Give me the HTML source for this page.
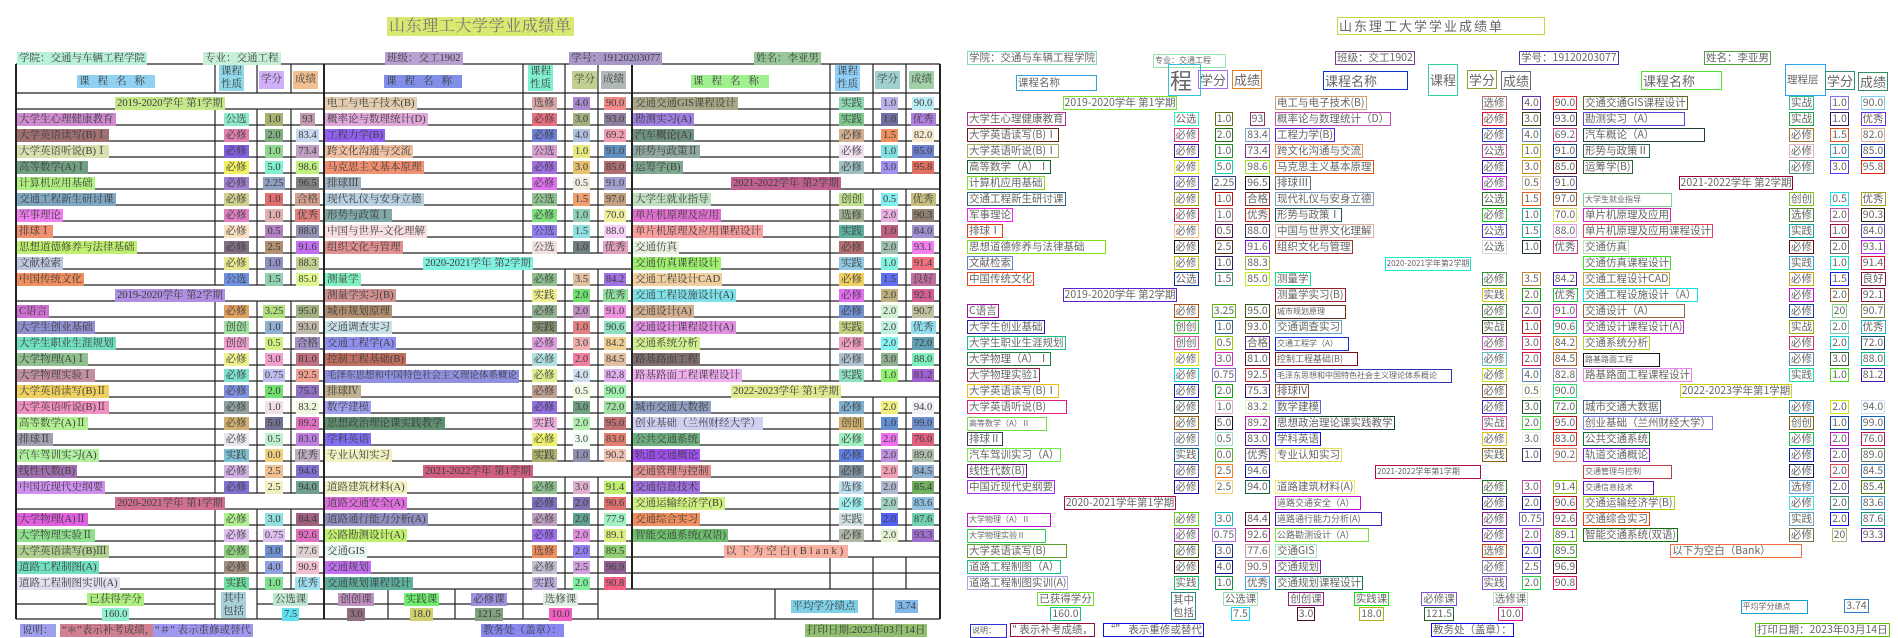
<!DOCTYPE html>
<html><head><meta charset="utf-8">
<style>
body{margin:0;width:1898px;height:636px;position:relative;overflow:hidden;background:#fff;font-family:"Liberation Serif","Noto Serif CJK SC",serif}
.L,.R{position:absolute;top:0;width:950px;height:636px}
.L{left:0}.R{left:950px}
.r{position:absolute;left:0;width:950px;height:16px}
.r b,.x{position:absolute;font-weight:normal;white-space:nowrap;text-align:center}
.r b{top:0;height:16px}
i{font-style:normal;display:inline-block;background:var(--c);line-height:13px;margin-top:1px;padding:0 2px;font-size:10.5px;color:#3c3c3c}
.a1{left:17px;text-align:left!important}.b1{left:215px;width:42px}.c1{left:257px;width:34px}.d1{left:291px;width:33px}
.a2{left:325px;text-align:left!important}.b2{left:523px;width:42px}.c2{left:565px;width:33px}.d2{left:598px;width:34px}
.a3{left:633px;text-align:left!important}.b3{left:830px;width:43px}.c3{left:873px;width:33px}.d3{left:906px;width:34px}
.h1{left:16px;width:308px}.h2{left:324px;width:308px}.h3{left:632px;width:308px}
.R i{background:none;border:1px solid var(--c);color:#666;font-family:"Noto Sans CJK SC",sans-serif;line-height:12px;padding:0 1px}
.big i{font-size:13px;line-height:17px}
</style></head><body>

<div class="L">
<svg width="950" height="636" style="position:absolute;left:0;top:0">
<g stroke="#222" fill="none" stroke-width="1.2">
<path d="M16 64H940M16 93H940M16 109H940M16 125H940M16 141H940M16 157H940M16 173H940M16 189H940M16 205H940M16 221H940M16 237H940M16 253H940M16 269H940M16 285H940M16 301H940M16 317H940M16 333H940M16 349H940M16 365H940M16 381H940M16 397H940M16 413H940M16 429H940M16 445H940M16 461H940M16 477H940M16 493H940M16 509H940M16 525H940M16 541H940M16 557H940M16 573H940M16 589H940M16 619H940M16 604H215M257 604H598"/>
<path d="M215 64V93M215 109V285M215 301V493M215 509V619M257 64V93M257 109V285M257 301V493M257 509V619M291 64V93M291 109V285M291 301V493M291 509V589M523 64V253M523 269V461M523 477V619M565 64V253M565 269V461M565 477V589M598 64V253M598 269V461M598 477V619M830 64V173M830 189V381M830 397V541M830 557V589M873 64V173M873 189V381M873 397V541M873 557V619M906 64V173M906 189V381M906 397V541M906 557V589M388 589V619M455 589V619M775 589V619"/>
<path stroke-width="2" d="M16 64V619M940 64V619M324 64V619M632 64V589"/>
</g></svg>
<div class="x" style="left:387px;top:16px"><i style="--c:#d8e870;font-size:16px;line-height:19px;letter-spacing:.6px;color:#777">山东理工大学学业成绩单</i></div>
<div class="x" style="left:17px;top:48px"><i style="--c:#b8f0d8">学院：交通与车辆工程学院</i></div>
<div class="x" style="left:203px;top:48px"><i style="--c:#c8f0d8">专业：交通工程</i></div>
<div class="x" style="left:385px;top:48px"><i style="--c:#b8a0d0">班级：交工1902</i></div>
<div class="x" style="left:569px;top:48px"><i style="--c:#a898c8">学号：19120203077</i></div>
<div class="x" style="left:754px;top:48px"><i style="--c:#98c898">姓名：李亚男</i></div>
<div class="x" style="left:77px;top:71px"><i style="--c:#90d0f0;letter-spacing:8px">课程名称</i></div>
<div class="x" style="left:219px;top:64px"><i style="--c:#90d8e8;line-height:13px">课程<br>性质</i></div>
<div class="x" style="left:259px;top:69px"><i style="--c:#d0b0f8;line-height:18px">学分</i></div>
<div class="x" style="left:293px;top:69px"><i style="--c:#f0c090;line-height:18px">成绩</i></div>
<div class="x" style="left:384px;top:71px"><i style="--c:#8090e8;letter-spacing:8px">课程名称</i></div>
<div class="x" style="left:528px;top:64px"><i style="--c:#80f0d0;line-height:13px">课程<br>性质</i></div>
<div class="x" style="left:572px;top:69px"><i style="--c:#c0d090;line-height:18px">学分</i></div>
<div class="x" style="left:601px;top:69px"><i style="--c:#b0b8b8;line-height:18px">成绩</i></div>
<div class="x" style="left:691px;top:71px"><i style="--c:#a0f090;letter-spacing:8px">课程名称</i></div>
<div class="x" style="left:835px;top:64px"><i style="--c:#90d0f8;line-height:13px">课程<br>性质</i></div>
<div class="x" style="left:875px;top:69px"><i style="--c:#a0d0d0;line-height:18px">学分</i></div>
<div class="x" style="left:909px;top:69px"><i style="--c:#a0d0a8;line-height:18px">成绩</i></div>

<div class="r" style="top:93px"><b class="h1"><i style="--c:#c5e88a">2019-2020学年 第1学期</i></b><b class="a2"><i style="--c:#e3cdb0">电工与电子技术(B)</i></b><b class="b2"><i style="--c:#d9a9a9">选修</i></b><b class="c2"><i style="--c:#a98ad0">4.0</i></b><b class="d2"><i style="--c:#f28a8a">90.0</i></b><b class="a3"><i style="--c:#a9a98a">交通交通GIS课程设计</i></b><b class="b3"><i style="--c:#8fd9b0">实践</i></b><b class="c3"><i style="--c:#b9b0e8">1.0</i></b><b class="d3"><i style="--c:#b9ecf5">90.0</i></b></div>
<div class="r" style="top:109px"><b class="a1"><i style="--c:#d08ad0">大学生心理健康教育</i></b><b class="b1"><i style="--c:#8fe8c8">公选</i></b><b class="c1"><i style="--c:#a9b070">1.0</i></b><b class="d1"><i style="--c:#c09ab0">93</i></b><b class="a2"><i style="--c:#e0a8d8">概率论与数理统计(D)</i></b><b class="b2"><i style="--c:#e87080">必修</i></b><b class="c2"><i style="--c:#a0b080">3.0</i></b><b class="d2"><i style="--c:#9080a0">93.0</i></b><b class="a3"><i style="--c:#a080e0">勘测实习(A)</i></b><b class="b3"><i style="--c:#80c890">实践</i></b><b class="c3"><i style="--c:#7070a0">1.0</i></b><b class="d3"><i style="--c:#b080e0">优秀</i></b></div>
<div class="r" style="top:125px"><b class="a1"><i style="--c:#a07070">大学英语读写(B)Ⅰ</i></b><b class="b1"><i style="--c:#e080b0">必修</i></b><b class="c1"><i style="--c:#80b080">2.0</i></b><b class="d1"><i style="--c:#c8d8f0">83.4</i></b><b class="a2"><i style="--c:#9060f0">工程力学(B)</i></b><b class="b2"><i style="--c:#7080d8">必修</i></b><b class="c2"><i style="--c:#b0c0e0">4.0</i></b><b class="d2"><i style="--c:#f0a0b0">69.2</i></b><b class="a3"><i style="--c:#709080">汽车概论(A)</i></b><b class="b3"><i style="--c:#d0b090">必修</i></b><b class="c3"><i style="--c:#f09060">1.5</i></b><b class="d3"><i style="--c:#f8e8d0">82.0</i></b></div>
<div class="r" style="top:141px"><b class="a1"><i style="--c:#d8e0b0">大学英语听说(B)Ⅰ</i></b><b class="b1"><i style="--c:#8060e0">必修</i></b><b class="c1"><i style="--c:#90d890">1.0</i></b><b class="d1"><i style="--c:#c0a0c0">73.4</i></b><b class="a2"><i style="--c:#f0c0a0">跨文化沟通与交流</i></b><b class="b2"><i style="--c:#d8a0d0">公选</i></b><b class="c2"><i style="--c:#e8e880">1.0</i></b><b class="d2"><i style="--c:#6090c0">91.0</i></b><b class="a3"><i style="--c:#90a8a0">形势与政策Ⅱ</i></b><b class="b3"><i style="--c:#f0e0f0">必修</i></b><b class="c3"><i style="--c:#80e0e0">1.0</i></b><b class="d3"><i style="--c:#7080d0">85.0</i></b></div>
<div class="r" style="top:157px"><b class="a1"><i style="--c:#70a080">高等数学(A)Ⅰ</i></b><b class="b1"><i style="--c:#f0f060">必修</i></b><b class="c1"><i style="--c:#80f0d0">5.0</i></b><b class="d1"><i style="--c:#c0f080">98.6</i></b><b class="a2"><i style="--c:#f09070">马克思主义基本原理</i></b><b class="b2"><i style="--c:#a070e0">必修</i></b><b class="c2"><i style="--c:#e8c070">3.0</i></b><b class="d2"><i style="--c:#b07070">85.0</i></b><b class="a3"><i style="--c:#80a890">运筹学(B)</i></b><b class="b3"><i style="--c:#a0c0c0">必修</i></b><b class="c3"><i style="--c:#a090f0">3.0</i></b><b class="d3"><i style="--c:#e07060">95.8</i></b></div>
<div class="r" style="top:173px"><b class="a1"><i style="--c:#b0f080">计算机应用基础</i></b><b class="b1"><i style="--c:#a080d0">必修</i></b><b class="c1"><i style="--c:#90a0c0">2.25</i></b><b class="d1"><i style="--c:#808080">96.5</i></b><b class="a2"><i style="--c:#a0b0c0">排球Ⅲ</i></b><b class="b2"><i style="--c:#e070f0">必修</i></b><b class="c2"><i style="--c:#f0ece0">0.5</i></b><b class="d2"><i style="--c:#a0a0d0">91.0</i></b><b class="h3"><i style="--c:#c06090">2021-2022学年 第2学期</i></b></div>
<div class="r" style="top:189px"><b class="a1"><i style="--c:#80a8c0">交通工程新生研讨课</i></b><b class="b1"><i style="--c:#d0d090">必修</i></b><b class="c1"><i style="--c:#e07070">1.0</i></b><b class="d1"><i style="--c:#d0a090">合格</i></b><b class="a2"><i style="--c:#b8d0e0">现代礼仪与安身立德</i></b><b class="b2"><i style="--c:#90c090">公选</i></b><b class="c2"><i style="--c:#f0a070">1.5</i></b><b class="d2"><i style="--c:#c0a080">97.0</i></b><b class="a3"><i style="--c:#c0e0c0">大学生就业指导</i></b><b class="b3"><i style="--c:#c0e090">创创</i></b><b class="c3"><i style="--c:#80f0f0">0.5</i></b><b class="d3"><i style="--c:#c8c080">优秀</i></b></div>
<div class="r" style="top:205px"><b class="a1"><i style="--c:#f080f0">军事理论</i></b><b class="b1"><i style="--c:#e080c0">必修</i></b><b class="c1"><i style="--c:#e0b0b0">1.0</i></b><b class="d1"><i style="--c:#e08080">优秀</i></b><b class="a2"><i style="--c:#80a8a8">形势与政策Ⅰ</i></b><b class="b2"><i style="--c:#80e080">必修</i></b><b class="c2"><i style="--c:#90d0b0">1.0</i></b><b class="d2"><i style="--c:#f0f0a0">70.0</i></b><b class="a3"><i style="--c:#e070d0">单片机原理及应用</i></b><b class="b3"><i style="--c:#a0b090">选修</i></b><b class="c3"><i style="--c:#e8b0e0">2.0</i></b><b class="d3"><i style="--c:#908070">90.3</i></b></div>
<div class="r" style="top:221px"><b class="a1"><i style="--c:#f09070">排球Ⅰ</i></b><b class="b1"><i style="--c:#f8e0c0">必修</i></b><b class="c1"><i style="--c:#b080c0">0.5</i></b><b class="d1"><i style="--c:#9090b0">88.0</i></b><b class="a2"><i style="--c:#f8e0e0">中国与世界-文化理解</i></b><b class="b2"><i style="--c:#9080f0">公选</i></b><b class="c2"><i style="--c:#90e0e0">1.5</i></b><b class="d2"><i style="--c:#f8d0f8">88.0</i></b><b class="a3"><i style="--c:#f8a0a0">单片机原理及应用课程设计</i></b><b class="b3"><i style="--c:#60b0a0">实践</i></b><b class="c3"><i style="--c:#c06080">1.0</i></b><b class="d3"><i style="--c:#a090d0">84.0</i></b></div>
<div class="r" style="top:237px"><b class="a1"><i style="--c:#c0f070">思想道德修养与法律基础</i></b><b class="b1"><i style="--c:#807080">必修</i></b><b class="c1"><i style="--c:#b09070">2.5</i></b><b class="d1"><i style="--c:#c070f0">91.6</i></b><b class="a2"><i style="--c:#e09090">组织文化与管理</i></b><b class="b2"><i style="--c:#f0e0e0">公选</i></b><b class="c2"><i style="--c:#708080">1.0</i></b><b class="d2"><i style="--c:#e0a0c0">优秀</i></b><b class="a3"><i style="--c:#e8f0e0">交通仿真</i></b><b class="b3"><i style="--c:#b07070">必修</i></b><b class="c3"><i style="--c:#a0c0b0">2.0</i></b><b class="d3"><i style="--c:#f080f0">93.1</i></b></div>
<div class="r" style="top:253px"><b class="a1"><i style="--c:#c0c8e0">文献检索</i></b><b class="b1"><i style="--c:#e8e890">必修</i></b><b class="c1"><i style="--c:#9090c0">1.0</i></b><b class="d1"><i style="--c:#c0d090">88.3</i></b><b class="h2"><i style="--c:#80f0e0">2020-2021学年 第2学期</i></b><b class="a3"><i style="--c:#a0f070">交通仿真课程设计</i></b><b class="b3"><i style="--c:#90c8e0">实践</i></b><b class="c3"><i style="--c:#80f0e0">1.0</i></b><b class="d3"><i style="--c:#f07080">91.4</i></b></div>
<div class="r" style="top:269px"><b class="a1"><i style="--c:#f09060">中国传统文化</i></b><b class="b1"><i style="--c:#7090e0">公选</i></b><b class="c1"><i style="--c:#90d0b0">1.5</i></b><b class="d1"><i style="--c:#e0f890">85.0</i></b><b class="a2"><i style="--c:#80f0c0">测量学</i></b><b class="b2"><i style="--c:#90c090">必修</i></b><b class="c2"><i style="--c:#e0c0a0">3.5</i></b><b class="d2"><i style="--c:#a070e0">84.2</i></b><b class="a3"><i style="--c:#f0d0a0">交通工程设计CAD</i></b><b class="b3"><i style="--c:#f0d060">必修</i></b><b class="c3"><i style="--c:#6070f0">1.5</i></b><b class="d3"><i style="--c:#c070a0">良好</i></b></div>
<div class="r" style="top:285px"><b class="h1"><i style="--c:#b090e0">2019-2020学年 第2学期</i></b><b class="a2"><i style="--c:#d09090">测量学实习(B)</i></b><b class="b2"><i style="--c:#f0f090">实践</i></b><b class="c2"><i style="--c:#70e070">2.0</i></b><b class="d2"><i style="--c:#90e0a0">优秀</i></b><b class="a3"><i style="--c:#80e0e8">交通工程设施设计(A)</i></b><b class="b3"><i style="--c:#e070f0">必修</i></b><b class="c3"><i style="--c:#c0b080">2.0</i></b><b class="d3"><i style="--c:#d06090">92.1</i></b></div>
<div class="r" style="top:301px"><b class="a1"><i style="--c:#d070d0">C语言</i></b><b class="b1"><i style="--c:#e0a060">必修</i></b><b class="c1"><i style="--c:#b0e080">3.25</i></b><b class="d1"><i style="--c:#a0b080">95.0</i></b><b class="a2"><i style="--c:#b09070">城市规划原理</i></b><b class="b2"><i style="--c:#90b090">必修</i></b><b class="c2"><i style="--c:#c090c0">2.0</i></b><b class="d2"><i style="--c:#f090e0">91.0</i></b><b class="a3"><i style="--c:#d0b090">交通设计(A)</i></b><b class="b3"><i style="--c:#7090d0">必修</i></b><b class="c3"><i style="--c:#d0f0d0">2.0</i></b><b class="d3"><i style="--c:#c0c0a0">90.7</i></b></div>
<div class="r" style="top:317px"><b class="a1"><i style="--c:#9090d0">大学生创业基础</i></b><b class="b1"><i style="--c:#a0e0a0">创创</i></b><b class="c1"><i style="--c:#90b0d0">1.0</i></b><b class="d1"><i style="--c:#c0b8a8">93.0</i></b><b class="a2"><i style="--c:#c8e0e8">交通调查实习</i></b><b class="b2"><i style="--c:#809070">实践</i></b><b class="c2"><i style="--c:#e08080">1.0</i></b><b class="d2"><i style="--c:#90e0c0">90.6</i></b><b class="a3"><i style="--c:#e090e0">交通设计课程设计(A)</i></b><b class="b3"><i style="--c:#c0d080">实践</i></b><b class="c3"><i style="--c:#c0f0e0">2.0</i></b><b class="d3"><i style="--c:#90e0f0">优秀</i></b></div>
<div class="r" style="top:333px"><b class="a1"><i style="--c:#70e0c0">大学生职业生涯规划</i></b><b class="b1"><i style="--c:#f0a0d0">创创</i></b><b class="c1"><i style="--c:#d0f080">0.5</i></b><b class="d1"><i style="--c:#a090c0">合格</i></b><b class="a2"><i style="--c:#9090f0">交通工程学(A)</i></b><b class="b2"><i style="--c:#e0a0e0">必修</i></b><b class="c2"><i style="--c:#f0b0b0">3.0</i></b><b class="d2"><i style="--c:#f0d090">84.2</i></b><b class="a3"><i style="--c:#d0f090">交通系统分析</i></b><b class="b3"><i style="--c:#f0a0c0">必修</i></b><b class="c3"><i style="--c:#80f0f0">2.0</i></b><b class="d3"><i style="--c:#60a0b0">72.0</i></b></div>
<div class="r" style="top:349px"><b class="a1"><i style="--c:#90c090">大学物理(A)Ⅰ</i></b><b class="b1"><i style="--c:#f0f090">必修</i></b><b class="c1"><i style="--c:#f0a0d0">3.0</i></b><b class="d1"><i style="--c:#c07080">81.0</i></b><b class="a2"><i style="--c:#c07060">控制工程基础(B)</i></b><b class="b2"><i style="--c:#b0e0e0">必修</i></b><b class="c2"><i style="--c:#f080a0">2.0</i></b><b class="d2"><i style="--c:#e0c0a0">84.5</i></b><b class="a3"><i style="--c:#807070">路基路面工程</i></b><b class="b3"><i style="--c:#b0c0d0">必修</i></b><b class="c3"><i style="--c:#90b090">3.0</i></b><b class="d3"><i style="--c:#80f0c0">88.0</i></b></div>
<div class="r" style="top:365px"><b class="a1"><i style="--c:#c090a0">大学物理实验Ⅰ</i></b><b class="b1"><i style="--c:#80e0d0">必修</i></b><b class="c1"><i style="--c:#c0c0f0">0.75</i></b><b class="d1"><i style="--c:#f0a090">92.5</i></b><b class="a2"><i style="--c:#9090e0;font-size:9.5px">毛泽东思想和中国特色社会主义理论体系概论</i></b><b class="b2"><i style="--c:#e0f090">必修</i></b><b class="c2"><i style="--c:#d0e0f0">4.0</i></b><b class="d2"><i style="--c:#e0b0f0">82.8</i></b><b class="a3"><i style="--c:#f0b0f0">路基路面工程课程设计</i></b><b class="b3"><i style="--c:#90e0c0">实践</i></b><b class="c3"><i style="--c:#90f070">1.0</i></b><b class="d3"><i style="--c:#a060d0">81.2</i></b></div>
<div class="r" style="top:381px"><b class="a1"><i style="--c:#f0d060">大学英语读写(B)Ⅱ</i></b><b class="b1"><i style="--c:#8090e0">必修</i></b><b class="c1"><i style="--c:#70e070">2.0</i></b><b class="d1"><i style="--c:#9070c0">75.3</i></b><b class="a2"><i style="--c:#c0b090">排球Ⅳ</i></b><b class="b2"><i style="--c:#c0a090">必修</i></b><b class="c2"><i style="--c:#f0f8e0">0.5</i></b><b class="d2"><i style="--c:#a0f0b0">90.0</i></b><b class="h3"><i style="--c:#e0e890">2022-2023学年 第1学期</i></b></div>
<div class="r" style="top:397px"><b class="a1"><i style="--c:#f090c0">大学英语听说(B)Ⅱ</i></b><b class="b1"><i style="--c:#90a0a0">必修</i></b><b class="c1"><i style="--c:#f0e0e8">1.0</i></b><b class="d1"><i style="--c:#f0f8e0">83.2</i></b><b class="a2"><i style="--c:#a0a0f0">数学建模</i></b><b class="b2"><i style="--c:#9070e0">必修</i></b><b class="c2"><i style="--c:#70a080">3.0</i></b><b class="d2"><i style="--c:#a0e0a0">72.0</i></b><b class="a3"><i style="--c:#90a0c0">城市交通大数据</i></b><b class="b3"><i style="--c:#80b0d0">必修</i></b><b class="c3"><i style="--c:#f0f080">2.0</i></b><b class="d3"><i style="--c:#f0f0f8">94.0</i></b></div>
<div class="r" style="top:413px"><b class="a1"><i style="--c:#b0f090">高等数学(A)Ⅱ</i></b><b class="b1"><i style="--c:#d0b070">必修</i></b><b class="c1"><i style="--c:#707090">5.0</i></b><b class="d1"><i style="--c:#e070c0">89.2</i></b><b class="a2"><i style="--c:#609070">思想政治理论课实践教学</i></b><b class="b2"><i style="--c:#f0b0e0">实践</i></b><b class="c2"><i style="--c:#b0f0b0">2.0</i></b><b class="d2"><i style="--c:#c07070">95.0</i></b><b class="a3"><i style="--c:#d0d0f0">创业基础（兰州财经大学）</i></b><b class="b3"><i style="--c:#d0b070">创创</i></b><b class="c3"><i style="--c:#6090d0">1.0</i></b><b class="d3"><i style="--c:#7090d0">99.0</i></b></div>
<div class="r" style="top:429px"><b class="a1"><i style="--c:#a0a0b0">排球Ⅱ</i></b><b class="b1"><i style="--c:#e8e8f0">必修</i></b><b class="c1"><i style="--c:#c0f0d0">0.5</i></b><b class="d1"><i style="--c:#c080e0">83.0</i></b><b class="a2"><i style="--c:#8070f0">学科英语</i></b><b class="b2"><i style="--c:#f0f070">必修</i></b><b class="c2"><i style="--c:#f0fff0">3.0</i></b><b class="d2"><i style="--c:#e08070">83.0</i></b><b class="a3"><i style="--c:#70b080">公共交通系统</i></b><b class="b3"><i style="--c:#a0f0c0">必修</i></b><b class="c3"><i style="--c:#f070f0">2.0</i></b><b class="d3"><i style="--c:#e06080">76.0</i></b></div>
<div class="r" style="top:445px"><b class="a1"><i style="--c:#b0f0a0">汽车驾训实习(A)</i></b><b class="b1"><i style="--c:#80c0d0">实践</i></b><b class="c1"><i style="--c:#f0d080">0.0</i></b><b class="d1"><i style="--c:#c0b0c0">优秀</i></b><b class="a2"><i style="--c:#f0f0c0">专业认知实习</i></b><b class="b2"><i style="--c:#b0b070">实践</i></b><b class="c2"><i style="--c:#9090b0">1.0</i></b><b class="d2"><i style="--c:#f0c0b0">90.2</i></b><b class="a3"><i style="--c:#a050f0">轨道交通概论</i></b><b class="b3"><i style="--c:#6080e0">必修</i></b><b class="c3"><i style="--c:#c090e0">2.0</i></b><b class="d3"><i style="--c:#b0c0b0">89.0</i></b></div>
<div class="r" style="top:461px"><b class="a1"><i style="--c:#a070b0">线性代数(B)</i></b><b class="b1"><i style="--c:#d0b0e0">必修</i></b><b class="c1"><i style="--c:#f0c090">2.5</i></b><b class="d1"><i style="--c:#8070d0">94.6</i></b><b class="h2"><i style="--c:#d06080">2021-2022学年 第1学期</i></b><b class="a3"><i style="--c:#e09090">交通管理与控制</i></b><b class="b3"><i style="--c:#8090a0">必修</i></b><b class="c3"><i style="--c:#f0a0b0">2.0</i></b><b class="d3"><i style="--c:#90b0d0">84.5</i></b></div>
<div class="r" style="top:477px"><b class="a1"><i style="--c:#d090f0">中国近现代史纲要</i></b><b class="b1"><i style="--c:#8070d0">必修</i></b><b class="c1"><i style="--c:#f0f0c0">2.5</i></b><b class="d1"><i style="--c:#70a090">94.0</i></b><b class="a2"><i style="--c:#f0f0c0">道路建筑材料(A)</i></b><b class="b2"><i style="--c:#90c090">必修</i></b><b class="c2"><i style="--c:#e0b0d0">3.0</i></b><b class="d2"><i style="--c:#c0f070">91.4</i></b><b class="a3"><i style="--c:#a070e0">交通信息技术</i></b><b class="b3"><i style="--c:#c0e0f0">选修</i></b><b class="c3"><i style="--c:#b0b8d0">2.0</i></b><b class="d3"><i style="--c:#70b060">85.4</i></b></div>
<div class="r" style="top:493px"><b class="h1"><i style="--c:#d07090">2020-2021学年 第1学期</i></b><b class="a2"><i style="--c:#e070e0">道路交通安全(A)</i></b><b class="b2"><i style="--c:#8070c0">必修</i></b><b class="c2"><i style="--c:#8070b0">2.0</i></b><b class="d2"><i style="--c:#e07070">90.6</i></b><b class="a3"><i style="--c:#d0f080">交通运输经济学(B)</i></b><b class="b3"><i style="--c:#a0f0f0">必修</i></b><b class="c3"><i style="--c:#a0d0c0">2.0</i></b><b class="d3"><i style="--c:#90c0e0">83.6</i></b></div>
<div class="r" style="top:509px"><b class="a1"><i style="--c:#e060e0">大学物理(A)Ⅱ</i></b><b class="b1"><i style="--c:#b0f090">必修</i></b><b class="c1"><i style="--c:#90e0e0">3.0</i></b><b class="d1"><i style="--c:#a06080">84.4</i></b><b class="a2"><i style="--c:#9090c0">道路通行能力分析(A)</i></b><b class="b2"><i style="--c:#c0a0c0">必修</i></b><b class="c2"><i style="--c:#60a090">2.0</i></b><b class="d2"><i style="--c:#a0f0c0">77.9</i></b><b class="a3"><i style="--c:#f09060">交通综合实习</i></b><b class="b3"><i style="--c:#d0e0e0">实践</i></b><b class="c3"><i style="--c:#5060f0">2.0</i></b><b class="d3"><i style="--c:#70d0b0">87.6</i></b></div>
<div class="r" style="top:525px"><b class="a1"><i style="--c:#90e090">大学物理实验Ⅱ</i></b><b class="b1"><i style="--c:#e0c0f0">必修</i></b><b class="c1"><i style="--c:#e0c0f0">0.75</i></b><b class="d1"><i style="--c:#e070c0">92.6</i></b><b class="a2"><i style="--c:#c0f070">公路勘测设计(A)</i></b><b class="b2"><i style="--c:#a070f0">必修</i></b><b class="c2"><i style="--c:#e090e0">2.0</i></b><b class="d2"><i style="--c:#e0f080">89.1</i></b><b class="a3"><i style="--c:#70c070">智能交通系统(双语)</i></b><b class="b3"><i style="--c:#b0b8a8">必修</i></b><b class="c3"><i style="--c:#e0f0d0">2.0</i></b><b class="d3"><i style="--c:#a070d0">93.3</i></b></div>
<div class="r" style="top:541px"><b class="a1"><i style="--c:#b0d090">大学英语读写(B)Ⅲ</i></b><b class="b1"><i style="--c:#90d080">必修</i></b><b class="c1"><i style="--c:#7090d0">3.0</i></b><b class="d1"><i style="--c:#e0d0d0">77.6</i></b><b class="a2"><i style="--c:#e8f8f0">交通GIS</i></b><b class="b2"><i style="--c:#f09060">选修</i></b><b class="c2"><i style="--c:#9080f0">2.0</i></b><b class="d2"><i style="--c:#90d070">89.5</i></b><b class="h3"><i style="--c:#f8b0a0;letter-spacing:3px">以下为空白(Blank)</i></b></div>
<div class="r" style="top:557px"><b class="a1"><i style="--c:#70e0c0">道路工程制图(A)</i></b><b class="b1"><i style="--c:#a09080">必修</i></b><b class="c1"><i style="--c:#90a0e0">4.0</i></b><b class="d1"><i style="--c:#f0c0d0">90.9</i></b><b class="a2"><i style="--c:#c070f0">交通规划</i></b><b class="b2"><i style="--c:#c0c0d0">必修</i></b><b class="c2"><i style="--c:#d0a0e0">2.5</i></b><b class="d2"><i style="--c:#906090">96.9</i></b></div>
<div class="r" style="top:573px"><b class="a1"><i style="--c:#e0e0f0">道路工程制图实训(A)</i></b><b class="b1"><i style="--c:#70e0a0">实践</i></b><b class="c1"><i style="--c:#80e090">1.0</i></b><b class="d1"><i style="--c:#a0e0f0">优秀</i></b><b class="a2"><i style="--c:#60b0a0">交通规划课程设计</i></b><b class="b2"><i style="--c:#c0b0e0">实践</i></b><b class="c2"><i style="--c:#80f0a0">2.0</i></b><b class="d2"><i style="--c:#f06080">90.8</i></b></div>

<div class="r" style="top:589px"><b style="left:16px;width:199px"><i style="--c:#b0f080">已获得学分</i></b><b style="left:257px;width:67px"><i style="--c:#c0e8d0">公选课</i></b><b style="left:324px;width:64px"><i style="--c:#c090c0">创创课</i></b><b style="left:388px;width:67px"><i style="--c:#70f070">实践课</i></b><b style="left:455px;width:68px"><i style="--c:#a090e0">必修课</i></b><b style="left:523px;width:75px"><i style="--c:#e0f0e0">选修课</i></b></div>
<div class="r" style="top:604px"><b style="left:16px;width:199px"><i style="--c:#90f0d0">160.0</i></b><b style="left:257px;width:67px"><i style="--c:#60e0f0">7.5</i></b><b style="left:324px;width:64px"><i style="--c:#907080">3.0</i></b><b style="left:388px;width:67px"><i style="--c:#d0d070">18.0</i></b><b style="left:455px;width:68px"><i style="--c:#80a080">121.5</i></b><b style="left:523px;width:75px"><i style="--c:#f060c0">10.0</i></b></div>
<div class="x" style="left:221px;top:591px"><i style="--c:#a8d0d8;line-height:13px">其中<br>包括</i></div>
<div class="x" style="left:775px;top:596px;width:98px"><i style="--c:#80d0e8">平均学分绩点</i></div>
<div class="x" style="left:873px;top:596px;width:67px"><i style="--c:#80b8e8">3.74</i></div>
<div class="x" style="left:20px;top:620px"><i style="--c:#a0a0f0">说明：</i></div>
<div class="x" style="left:60px;top:620px"><i style="--c:#d08090">“＊”表示补考成绩，</i></div>
<div class="x" style="left:153px;top:620px"><i style="--c:#a098f0">“＃” 表示重修或替代</i></div>
<div class="x" style="left:481px;top:620px"><i style="--c:#8888f0">教务处（盖章）：</i></div>
<div class="x" style="left:805px;top:620px"><i style="--c:#90c070">打印日期:2023年03月14日</i></div>
</div>

<div class="R">
<div class="x" style="left:387px;top:16px"><i style="--c:#c8d840;font-size:13px;line-height:16px;letter-spacing:2px;padding-right:40px">山东理工大学学业成绩单</i></div>
<div class="x" style="left:17px;top:48px"><i style="--c:#80e0b0">学院：交通与车辆工程学院</i></div>
<div class="x" style="left:203px;top:50px"><i style="--c:#90e8b0;font-size:8px;padding-right:14px">专业：交通工程</i></div>
<div class="x" style="left:385px;top:48px"><i style="--c:#704080">班级：交工1902</i></div>
<div class="x" style="left:569px;top:48px"><i style="--c:#5030a0">学号：19120203077</i></div>
<div class="x" style="left:754px;top:48px"><i style="--c:#50a040">姓名：李亚男</i></div>
<div class="x" style="left:66px;top:73px"><i style="--c:#30a0e0;padding-right:36px;line-height:14px">课程名称</i></div>
<div class="x" style="left:218px;top:63px"><i style="--c:#30c0e0;font-size:22px;line-height:30px;padding-right:8px">程</i></div>
<div class="x big" style="left:248px;top:69px"><i style="--c:#a070f0">学分</i></div>
<div class="x big" style="left:282px;top:69px"><i style="--c:#e08020">成绩</i></div>
<div class="x big" style="left:373px;top:70px"><i style="--c:#1030d0;padding-right:30px">课程名称</i></div>
<div class="x big" style="left:478px;top:63px"><i style="--c:#30d0a0;line-height:30px">课程</i></div>
<div class="x big" style="left:517px;top:69px"><i style="--c:#90a020">学分</i></div>
<div class="x big" style="left:551px;top:70px"><i style="--c:#607080">成绩</i></div>
<div class="x big" style="left:691px;top:70px"><i style="--c:#50e030;padding-right:26px">课程名称</i></div>
<div class="x" style="left:835px;top:63px"><i style="--c:#30a0f0;line-height:30px;padding-right:6px;vertical-align:top">理程层</i></div>
<div class="x big" style="left:875px;top:70px"><i style="--c:#309080">学分</i></div>
<div class="x big" style="left:908px;top:71px"><i style="--c:#309060">成绩</i></div>

<div class="r" style="top:93px"><b class="h1"><i style="--c:#80e030">2019-2020学年 第1学期</i></b><b class="a2"><i style="--c:#d0a070">电工与电子技术(B)</i></b><b class="b2"><i style="--c:#b07070">选修</i></b><b class="c2"><i style="--c:#6030a0">4.0</i></b><b class="d2"><i style="--c:#f02020">90.0</i></b><b class="a3"><i style="--c:#606020">交通交通GIS课程设计</i></b><b class="b3"><i style="--c:#30c080">实战</i></b><b class="c3"><i style="--c:#8070f0">1.0</i></b><b class="d3"><i style="--c:#80d0f0">90.0</i></b></div>
<div class="r" style="top:109px"><b class="a1"><i style="--c:#b03090">大学生心理健康教育</i></b><b class="b1"><i style="--c:#30f0c0">公选</i></b><b class="c1"><i style="--c:#607010">1.0</i></b><b class="d1"><i style="--c:#903060">93</i></b><b class="a2"><i style="--c:#c050b0">概率论与数理统计（D）</i></b><b class="b2"><i style="--c:#e01030">必修</i></b><b class="c2"><i style="--c:#404010">3.0</i></b><b class="d2"><i style="--c:#302050">93.0</i></b><b class="a3"><i style="--c:#6040d0;padding-right:30px">勘测实习（A）</i></b><b class="b3"><i style="--c:#20a050">实战</i></b><b class="c3"><i style="--c:#202060">1.0</i></b><b class="d3"><i style="--c:#6030e0">优秀</i></b></div>
<div class="r" style="top:125px"><b class="a1"><i style="--c:#602010">大学英语读写(B)Ⅰ</i></b><b class="b1"><i style="--c:#e03080">必修</i></b><b class="c1"><i style="--c:#207020">2.0</i></b><b class="d1"><i style="--c:#80a0d0">83.4</i></b><b class="a2"><i style="--c:#6020e0">工程力学(B)</i></b><b class="b2"><i style="--c:#2040c0">必修</i></b><b class="c2"><i style="--c:#6080b0">4.0</i></b><b class="d2"><i style="--c:#c04080">69.2</i></b><b class="a3"><i style="--c:#204040;padding-right:50px">汽车概论（A）</i></b><b class="b3"><i style="--c:#a07030">必修</i></b><b class="c3"><i style="--c:#e05010">1.5</i></b><b class="d3"><i style="--c:#e0b090">82.0</i></b></div>
<div class="r" style="top:141px"><b class="a1"><i style="--c:#a0b060">大学英语听说(B)Ⅰ</i></b><b class="b1"><i style="--c:#4010a0">必修</i></b><b class="c1"><i style="--c:#209020">1.0</i></b><b class="d1"><i style="--c:#803070">73.4</i></b><b class="a2"><i style="--c:#f09050">跨文化沟通与交流</i></b><b class="b2"><i style="--c:#b04090">公选</i></b><b class="c2"><i style="--c:#b0b010">1.0</i></b><b class="d2"><i style="--c:#104080">91.0</i></b><b class="a3"><i style="--c:#306060">形势与政策Ⅱ</i></b><b class="b3"><i style="--c:#e0b0d0">必修</i></b><b class="c3"><i style="--c:#20b0c0">1.0</i></b><b class="d3"><i style="--c:#1030b0">85.0</i></b></div>
<div class="r" style="top:157px"><b class="a1"><i style="--c:#106030">高等数学（A）Ⅰ</i></b><b class="b1"><i style="--c:#e0f010">必修</i></b><b class="c1"><i style="--c:#10d0b0">5.0</i></b><b class="d1"><i style="--c:#a0e020">98.6</i></b><b class="a2"><i style="--c:#e05010">马克思主义基本原理</i></b><b class="b2"><i style="--c:#3010b0">必修</i></b><b class="c2"><i style="--c:#d09020">3.0</i></b><b class="d2"><i style="--c:#601010">85.0</i></b><b class="a3"><i style="--c:#306030">运筹学(B)</i></b><b class="b3"><i style="--c:#509080">必修</i></b><b class="c3"><i style="--c:#6030f0">3.0</i></b><b class="d3"><i style="--c:#e02010">95.8</i></b></div>
<div class="r" style="top:173px"><b class="a1"><i style="--c:#80e020">计算机应用基础</i></b><b class="b1"><i style="--c:#6040c0">必修</i></b><b class="c1"><i style="--c:#304080">2.25</i></b><b class="d1"><i style="--c:#101010">96.5</i></b><b class="a2"><i style="--c:#607080">排球Ⅲ</i></b><b class="b2"><i style="--c:#c010f0">必修</i></b><b class="c2"><i style="--c:#e0c090">0.5</i></b><b class="d2"><i style="--c:#404080">91.0</i></b><b class="h3"><i style="--c:#900040">2021-2022学年 第2学期</i></b></div>
<div class="r" style="top:189px"><b class="a1"><i style="--c:#306080">交通工程新生研讨课</i></b><b class="b1"><i style="--c:#a0a010">必修</i></b><b class="c1"><i style="--c:#c01010">1.0</i></b><b class="d1"><i style="--c:#803030">合格</i></b><b class="a2"><i style="--c:#80a0c0">现代礼仪与安身立德</i></b><b class="b2"><i style="--c:#207020">公选</i></b><b class="c2"><i style="--c:#e06020">1.5</i></b><b class="d2"><i style="--c:#905020">97.0</i></b><b class="a3"><i style="--c:#80d090;font-size:8px;padding-right:30px">大学生就业指导</i></b><b class="b3"><i style="--c:#80c020">创创</i></b><b class="c3"><i style="--c:#20e0f0">0.5</i></b><b class="d3"><i style="--c:#a0a020">优秀</i></b></div>
<div class="r" style="top:205px"><b class="a1"><i style="--c:#f020f0">军事理论</i></b><b class="b1"><i style="--c:#c01050">必修</i></b><b class="c1"><i style="--c:#a07070">1.0</i></b><b class="d1"><i style="--c:#c02010">优秀</i></b><b class="a2"><i style="--c:#205050">形势与政策Ⅰ</i></b><b class="b2"><i style="--c:#10c010">必修</i></b><b class="c2"><i style="--c:#10b090">1.0</i></b><b class="d2"><i style="--c:#e0e060">70.0</i></b><b class="a3"><i style="--c:#d020c0">单片机原理及应用</i></b><b class="b3"><i style="--c:#508030">选修</i></b><b class="c3"><i style="--c:#c050a0">2.0</i></b><b class="d3"><i style="--c:#302010">90.3</i></b></div>
<div class="r" style="top:221px"><b class="a1"><i style="--c:#e04010">排球Ⅰ</i></b><b class="b1"><i style="--c:#f0c080">必修</i></b><b class="c1"><i style="--c:#501050">0.5</i></b><b class="d1"><i style="--c:#303050">88.0</i></b><b class="a2"><i style="--c:#e0b0a0">中国与世界文化理解</i></b><b class="b2"><i style="--c:#4030e0">公选</i></b><b class="c2"><i style="--c:#10b0a0">1.5</i></b><b class="d2"><i style="--c:#e0a0e0">88.0</i></b><b class="a3"><i style="--c:#e04060">单片机原理及应用课程设计</i></b><b class="b3"><i style="--c:#10a0a0">实践</i></b><b class="c3"><i style="--c:#a01040">1.0</i></b><b class="d3"><i style="--c:#6040b0">84.0</i></b></div>
<div class="r" style="top:237px"><b class="a1"><i style="--c:#80e010;padding-right:20px">思想道德修养与法律基础</i></b><b class="b1"><i style="--c:#201010">必修</i></b><b class="c1"><i style="--c:#503010">2.5</i></b><b class="d1"><i style="--c:#7010c0">91.6</i></b><b class="a2"><i style="--c:#a03030">组织文化与管理</i></b><b class="b2"><i style="--c:#e0d0e0">公选</i></b><b class="c2"><i style="--c:#203030">1.0</i></b><b class="d2"><i style="--c:#c04070">优秀</i></b><b class="a3"><i style="--c:#c0e0b0">交通仿真</i></b><b class="b3"><i style="--c:#601010">必修</i></b><b class="c3"><i style="--c:#607060">2.0</i></b><b class="d3"><i style="--c:#c020f0">93.1</i></b></div>
<div class="r" style="top:253px"><b class="a1"><i style="--c:#6080d0">文献检索</i></b><b class="b1"><i style="--c:#c0c010">必修</i></b><b class="c1"><i style="--c:#302060">1.0</i></b><b class="d1"><i style="--c:#a0b030">88.3</i></b><b class="h2"><i style="--c:#10f0d0;font-size:8px">2020-2021学年第2学期</i></b><b class="a3"><i style="--c:#40e020">交通仿真课程设计</i></b><b class="b3"><i style="--c:#30a0d0">实践</i></b><b class="c3"><i style="--c:#10e0c0">1.0</i></b><b class="d3"><i style="--c:#e01030">91.4</i></b></div>
<div class="r" style="top:269px"><b class="a1"><i style="--c:#f04010">中国传统文化</i></b><b class="b1"><i style="--c:#103090">公选</i></b><b class="c1"><i style="--c:#309060">1.5</i></b><b class="d1"><i style="--c:#c0f020">85.0</i></b><b class="a2"><i style="--c:#10e090">测量学</i></b><b class="b2"><i style="--c:#309030">必修</i></b><b class="c2"><i style="--c:#c08030">3.5</i></b><b class="d2"><i style="--c:#5010b0">84.2</i></b><b class="a3"><i style="--c:#d0a040">交通工程设计CAD</i></b><b class="b3"><i style="--c:#d0a010">必修</i></b><b class="c3"><i style="--c:#1020e0">1.5</i></b><b class="d3"><i style="--c:#801040">良好</i></b></div>
<div class="r" style="top:285px"><b class="h1"><i style="--c:#6020d0">2019-2020学年 第2学期</i></b><b class="a2"><i style="--c:#902030">测量学实习(B)</i></b><b class="b2"><i style="--c:#d0d010">实践</i></b><b class="c2"><i style="--c:#10a010">2.0</i></b><b class="d2"><i style="--c:#20c040">优秀</i></b><b class="a3"><i style="--c:#10e0e0">交通工程设施设计（A）</i></b><b class="b3"><i style="--c:#c010d0">必修</i></b><b class="c3"><i style="--c:#906020">2.0</i></b><b class="d3"><i style="--c:#901030">92.1</i></b></div>
<div class="r" style="top:301px"><b class="a1"><i style="--c:#a010a0">C语言</i></b><b class="b1"><i style="--c:#b05010">必修</i></b><b class="c1"><i style="--c:#60b010">3.25</i></b><b class="d1"><i style="--c:#305010">95.0</i></b><b class="a2"><i style="--c:#603010;font-size:8px;padding-right:20px">城市规划原理</i></b><b class="b2"><i style="--c:#308030">必修</i></b><b class="c2"><i style="--c:#804080">2.0</i></b><b class="d2"><i style="--c:#d030c0">91.0</i></b><b class="a3"><i style="--c:#a06040;padding-right:30px">交通设计（A）</i></b><b class="b3"><i style="--c:#104090">必修</i></b><b class="c3"><i style="--c:#80d080">20</i></b><b class="d3"><i style="--c:#808040">90.7</i></b></div>
<div class="r" style="top:317px"><b class="a1"><i style="--c:#2020a0">大学生创业基础</i></b><b class="b1"><i style="--c:#30c030">创创</i></b><b class="c1"><i style="--c:#306090">1.0</i></b><b class="d1"><i style="--c:#605030">93.0</i></b><b class="a2"><i style="--c:#70a0c0">交通调查实习</i></b><b class="b2"><i style="--c:#204010">实战</i></b><b class="c2"><i style="--c:#c01010">1.0</i></b><b class="d2"><i style="--c:#10c080">90.6</i></b><b class="a3"><i style="--c:#c020c0">交通设计课程设计(A)</i></b><b class="b3"><i style="--c:#a0a010">实战</i></b><b class="c3"><i style="--c:#70d0b0">2.0</i></b><b class="d3"><i style="--c:#20b0c0">优秀</i></b></div>
<div class="r" style="top:333px"><b class="a1"><i style="--c:#10c090">大学生职业生涯规划</i></b><b class="b1"><i style="--c:#e050a0">创创</i></b><b class="c1"><i style="--c:#90d010">0.5</i></b><b class="d1"><i style="--c:#502080">合格</i></b><b class="a2"><i style="--c:#1030e0;font-size:8px;padding-right:10px">交通工程学（A）</i></b><b class="b2"><i style="--c:#c050c0">必修</i></b><b class="c2"><i style="--c:#e03060">3.0</i></b><b class="d2"><i style="--c:#d09030">84.2</i></b><b class="a3"><i style="--c:#b0d030">交通系统分析</i></b><b class="b3"><i style="--c:#d03070">必修</i></b><b class="c3"><i style="--c:#10d0e0">2.0</i></b><b class="d3"><i style="--c:#105070">72.0</i></b></div>
<div class="r" style="top:349px"><b class="a1"><i style="--c:#208040">大学物理（A）Ⅰ</i></b><b class="b1"><i style="--c:#e0e010">必修</i></b><b class="c1"><i style="--c:#d030c0">3.0</i></b><b class="d1"><i style="--c:#601030">81.0</i></b><b class="a2"><i style="--c:#801010;font-size:9px;padding-right:14px">控制工程基础(B)</i></b><b class="b2"><i style="--c:#60c0c0">必修</i></b><b class="c2"><i style="--c:#e01040">2.0</i></b><b class="d2"><i style="--c:#a06030">84.5</i></b><b class="a3"><i style="--c:#201020;font-size:8px;padding-right:26px">路基路面工程</i></b><b class="b3"><i style="--c:#6080a0">必修</i></b><b class="c3"><i style="--c:#306030">3.0</i></b><b class="d3"><i style="--c:#10c080">88.0</i></b></div>
<div class="r" style="top:365px"><b class="a1"><i style="--c:#902050">大学物理实验1</i></b><b class="b1"><i style="--c:#10d0d0">必修</i></b><b class="c1"><i style="--c:#8070d0">0.75</i></b><b class="d1"><i style="--c:#c02030">92.5</i></b><b class="a2"><i style="--c:#3030b0;font-size:8px;padding-right:14px">毛泽东思想和中国特色社会主义理论体系概论</i></b><b class="b2"><i style="--c:#c0e010">必修</i></b><b class="c2"><i style="--c:#6080c0">4.0</i></b><b class="d2"><i style="--c:#b080c0">82.8</i></b><b class="a3"><i style="--c:#f080f0">路基路面工程课程设计</i></b><b class="b3"><i style="--c:#10e0a0">实践</i></b><b class="c3"><i style="--c:#40e010">1.0</i></b><b class="d3"><i style="--c:#5010b0">81.2</i></b></div>
<div class="r" style="top:381px"><b class="a1"><i style="--c:#f0c010">大学英语读写(B)Ⅰ</i></b><b class="b1"><i style="--c:#1020a0">必修</i></b><b class="c1"><i style="--c:#10a010">2.0</i></b><b class="d1"><i style="--c:#301070">75.3</i></b><b class="a2"><i style="--c:#805030">排球IV</i></b><b class="b2"><i style="--c:#806030">必修</i></b><b class="c2"><i style="--c:#e0f0c0">0.5</i></b><b class="d2"><i style="--c:#20e070">90.0</i></b><b class="h3"><i style="--c:#d0d010">2022-2023学年第1学期</i></b></div>
<div class="r" style="top:397px"><b class="a1"><i style="--c:#e02080;padding-right:20px">大学英语听说(B)</i></b><b class="b1"><i style="--c:#305050">必修</i></b><b class="c1"><i style="--c:#e0b0c0">1.0</i></b><b class="d1"><i style="--c:#e0f0c0">83.2</i></b><b class="a2"><i style="--c:#6060f0">数学建模</i></b><b class="b2"><i style="--c:#4020c0">必修</i></b><b class="c2"><i style="--c:#205030">3.0</i></b><b class="d2"><i style="--c:#30a030">72.0</i></b><b class="a3"><i style="--c:#406080">城市交通大数据</i></b><b class="b3"><i style="--c:#1080b0">必修</i></b><b class="c3"><i style="--c:#d0e010">2.0</i></b><b class="d3"><i style="--c:#d0e0f0">94.0</i></b></div>
<div class="r" style="top:413px"><b class="a1"><i style="--c:#70e040;font-size:8px;padding-right:16px">高等数学（A）Ⅱ</i></b><b class="b1"><i style="--c:#906010">必修</i></b><b class="c1"><i style="--c:#101030">5.0</i></b><b class="d1"><i style="--c:#b010b0">89.2</i></b><b class="a2"><i style="--c:#104020">思想政治理论课实践教学</i></b><b class="b2"><i style="--c:#e04090">实战</i></b><b class="c2"><i style="--c:#40e040">2.0</i></b><b class="d2"><i style="--c:#c01010">95.0</i></b><b class="a3"><i style="--c:#8080e0">创业基础（兰州财经大学）</i></b><b class="b3"><i style="--c:#806010">创创</i></b><b class="c3"><i style="--c:#1040b0">1.0</i></b><b class="d3"><i style="--c:#1060c0">99.0</i></b></div>
<div class="r" style="top:429px"><b class="a1"><i style="--c:#304050">排球Ⅱ</i></b><b class="b1"><i style="--c:#8090c0">必修</i></b><b class="c1"><i style="--c:#a0e0c0">0.5</i></b><b class="d1"><i style="--c:#501090">83.0</i></b><b class="a2"><i style="--c:#1010e0">学科英语</i></b><b class="b2"><i style="--c:#e0c010">必修</i></b><b class="c2"><i style="--c:#e0f0e0">3.0</i></b><b class="d2"><i style="--c:#e02010">83.0</i></b><b class="a3"><i style="--c:#107030">公共交通系统</i></b><b class="b3"><i style="--c:#10c050">必修</i></b><b class="c3"><i style="--c:#c010c0">2.0</i></b><b class="d3"><i style="--c:#c01050">76.0</i></b></div>
<div class="r" style="top:445px"><b class="a1"><i style="--c:#70f040">汽车驾训实习（A）</i></b><b class="b1"><i style="--c:#106080">实践</i></b><b class="c1"><i style="--c:#50b030">0.0</i></b><b class="d1"><i style="--c:#604060">优秀</i></b><b class="a2"><i style="--c:#e0e060">专业认知实习</i></b><b class="b2"><i style="--c:#806010">实践</i></b><b class="c2"><i style="--c:#303060">1.0</i></b><b class="d2"><i style="--c:#e08070">90.2</i></b><b class="a3"><i style="--c:#8010e0">轨道交通概论</i></b><b class="b3"><i style="--c:#1020c0">必修</i></b><b class="c3"><i style="--c:#7030b0">2.0</i></b><b class="d3"><i style="--c:#608060">89.0</i></b></div>
<div class="r" style="top:461px"><b class="a1"><i style="--c:#701080">线性代数(B)</i></b><b class="b1"><i style="--c:#5040a0">必修</i></b><b class="c1"><i style="--c:#f08030">2.5</i></b><b class="d1"><i style="--c:#1010a0">94.6</i></b><b class="h2"><i style="--c:#b01040;font-size:8px;padding-right:20px">2021-2022学年第1学期</i></b><b class="a3"><i style="--c:#c04040;font-size:8px;padding-right:30px">交通管理与控制</i></b><b class="b3"><i style="--c:#102040">必修</i></b><b class="c3"><i style="--c:#e04050">2.0</i></b><b class="d3"><i style="--c:#3070b0">84.5</i></b></div>
<div class="r" style="top:477px"><b class="a1"><i style="--c:#a030f0">中国近现代史纲要</i></b><b class="b1"><i style="--c:#2010a0">必修</i></b><b class="c1"><i style="--c:#f0d080">2.5</i></b><b class="d1"><i style="--c:#106040">94.0</i></b><b class="a2"><i style="--c:#f0f060">道路建筑材料(A)</i></b><b class="b2"><i style="--c:#207020">必修</i></b><b class="c2"><i style="--c:#c040a0">3.0</i></b><b class="d2"><i style="--c:#80c010">91.4</i></b><b class="a3"><i style="--c:#6010b0;font-size:8px;padding-right:20px">交通信息技术</i></b><b class="b3"><i style="--c:#60a0e0">选修</i></b><b class="c3"><i style="--c:#505090">2.0</i></b><b class="d3"><i style="--c:#408010">85.4</i></b></div>
<div class="r" style="top:493px"><b class="h1"><i style="--c:#a01040">2020-2021学年第1学期</i></b><b class="a2"><i style="--c:#c010d0;font-size:9px;padding-right:6px">道路交通安全（A）</i></b><b class="b2"><i style="--c:#2010a0">必修</i></b><b class="c2"><i style="--c:#1010a0">2.0</i></b><b class="d2"><i style="--c:#c01010">90.6</i></b><b class="a3"><i style="--c:#a0d010">交通运输经济学(B)</i></b><b class="b3"><i style="--c:#40e0e0">必修</i></b><b class="c3"><i style="--c:#309080">2.0</i></b><b class="d3"><i style="--c:#3090c0">83.6</i></b></div>
<div class="r" style="top:509px"><b class="a1"><i style="--c:#c010d0;font-size:8px;padding-right:20px">大学物理（A）Ⅱ</i></b><b class="b1"><i style="--c:#60d010">必修</i></b><b class="c1"><i style="--c:#10c0c0">3.0</i></b><b class="d1"><i style="--c:#501030">84.4</i></b><b class="a2"><i style="--c:#4020b0;font-size:9px;padding-right:20px">道路通行能力分析(A)</i></b><b class="b2"><i style="--c:#802080">必修</i></b><b class="c2"><i style="--c:#6050c0">0.75</i></b><b class="d2"><i style="--c:#a01060">92.6</i></b><b class="a3"><i style="--c:#e04010">交通综合实习</i></b><b class="b3"><i style="--c:#70a0c0">实践</i></b><b class="c3"><i style="--c:#1010f0">2.0</i></b><b class="d3"><i style="--c:#10a080">87.6</i></b></div>
<div class="r" style="top:525px"><b class="a1"><i style="--c:#30d050;font-size:8px;padding-right:20px">大学物理实验Ⅱ</i></b><b class="b1"><i style="--c:#a030c0">必修</i></b><b class="c1"><i style="--c:#b070e0">0.75</i></b><b class="d1"><i style="--c:#b01070">92.6</i></b><b class="a2"><i style="--c:#80e030;font-size:9px;padding-right:14px">公路勘测设计（A）</i></b><b class="b2"><i style="--c:#6020c0">必修</i></b><b class="c2"><i style="--c:#c030c0">2.0</i></b><b class="d2"><i style="--c:#60c010">89.1</i></b><b class="a3"><i style="--c:#107010">智能交通系统(双语)</i></b><b class="b3"><i style="--c:#707050">必修</i></b><b class="c3"><i style="--c:#a0c070">20</i></b><b class="d3"><i style="--c:#5020a0">93.3</i></b></div>
<div class="r" style="top:541px"><b class="a1"><i style="--c:#60a030;padding-right:20px">大学英语读写(B)</i></b><b class="b1"><i style="--c:#406010">必修</i></b><b class="c1"><i style="--c:#103080">3.0</i></b><b class="d1"><i style="--c:#c0a0a0">77.6</i></b><b class="a2"><i style="--c:#a0f0c0">交通GIS</i></b><b class="b2"><i style="--c:#c04010">选修</i></b><b class="c2"><i style="--c:#1010c0">2.0</i></b><b class="d2"><i style="--c:#40a010">89.5</i></b><b class="h3"><i style="--c:#f07040;padding-right:30px">以下为空白（Bank）</i></b></div>
<div class="r" style="top:557px"><b class="a1"><i style="--c:#10c090">道路工程制图（A）</i></b><b class="b1"><i style="--c:#401010">必修</i></b><b class="c1"><i style="--c:#101080">4.0</i></b><b class="d1"><i style="--c:#c08090">90.9</i></b><b class="a2"><i style="--c:#8010c0">交通规划</i></b><b class="b2"><i style="--c:#8070b0">必修</i></b><b class="c2"><i style="--c:#7050d0">2.5</i></b><b class="d2"><i style="--c:#501020">96.9</i></b></div>
<div class="r" style="top:573px"><b class="a1"><i style="--c:#b0a0e0">道路工程制图实训(A)</i></b><b class="b1"><i style="--c:#10c060">实践</i></b><b class="c1"><i style="--c:#109040">1.0</i></b><b class="d1"><i style="--c:#40a0e0">优秀</i></b><b class="a2"><i style="--c:#107060">交通规划课程设计</i></b><b class="b2"><i style="--c:#8050d0">实践</i></b><b class="c2"><i style="--c:#20d040">2.0</i></b><b class="d2"><i style="--c:#e01050">90.8</i></b></div>

<div class="r" style="top:589px"><b style="left:16px;width:199px"><i style="--c:#70e030">已获得学分</i></b><b style="left:257px;width:67px"><i style="--c:#a0e0b0">公选课</i></b><b style="left:324px;width:64px"><i style="--c:#902080">创创课</i></b><b style="left:388px;width:67px"><i style="--c:#10e010">实践课</i></b><b style="left:455px;width:68px"><i style="--c:#8050d0">必修课</i></b><b style="left:523px;width:75px"><i style="--c:#c0e0c0">选修课</i></b></div>
<div class="r" style="top:604px"><b style="left:16px;width:199px"><i style="--c:#10c090">160.0</i></b><b style="left:257px;width:67px"><i style="--c:#10d0f0">7.5</i></b><b style="left:324px;width:64px"><i style="--c:#401020">3.0</i></b><b style="left:388px;width:67px"><i style="--c:#b0b010">18.0</i></b><b style="left:455px;width:68px"><i style="--c:#206030">121.5</i></b><b style="left:523px;width:75px"><i style="--c:#e01080">10.0</i></b></div>
<div class="x" style="left:221px;top:591px"><i style="--c:#308090;line-height:13px">其中<br>包括</i></div>
<div class="x" style="left:775px;top:596px;width:98px"><i style="--c:#10a0d0;font-size:8px;padding-right:16px">平均学分绩点</i></div>
<div class="x" style="left:873px;top:596px;width:67px"><i style="--c:#3080d0">3.74</i></div>
<div class="x" style="left:20px;top:620px"><i style="--c:#3030d0;font-size:8px;padding-right:10px">说明：</i></div>
<div class="x" style="left:60px;top:620px"><i style="--c:#901040">" 表示补考成绩，</i></div>
<div class="x" style="left:153px;top:620px"><i style="--c:#1010e0">“” 表示重修或替代</i></div>
<div class="x" style="left:481px;top:620px"><i style="--c:#1010e0">教务处（盖章）：</i></div>
<div class="x" style="left:805px;top:620px"><i style="--c:#60c010">打印日期：2023年03月14日</i></div>
</div>
</body></html>
